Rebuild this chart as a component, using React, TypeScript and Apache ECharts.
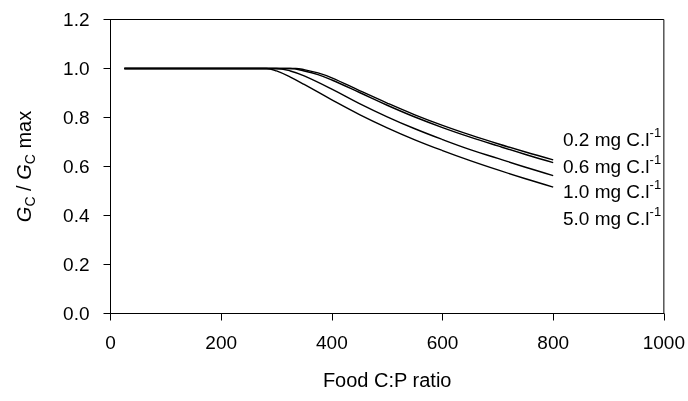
import React, { useEffect, useRef } from "react";
import * as echarts from "echarts";

// Food C:P ratio (x) and relative growth G_C / G_C max (y) for each food concentration
const concLabels = ["0.2 mg C.l", "0.6 mg C.l", "1.0 mg C.l", "5.0 mg C.l"];

const cp02 = [25, 335, 350, 375, 400, 450, 500, 550, 600, 650, 700, 750, 800];
const g02 = [1, 1, 0.995, 0.982, 0.962, 0.91, 0.859, 0.811, 0.768, 0.729, 0.693, 0.659, 0.627];

const cp06 = [25, 325, 350, 375, 400, 450, 500, 550, 600, 650, 700, 750, 800];
const g06 = [1, 1, 0.99, 0.975, 0.953, 0.902, 0.85, 0.802, 0.759, 0.72, 0.684, 0.649, 0.616];

const cp10 = [25, 300, 325, 350, 400, 450, 500, 550, 600, 650, 700, 750, 800];
const g10 = [1, 1, 0.99, 0.97, 0.916, 0.857, 0.803, 0.754, 0.71, 0.669, 0.633, 0.597, 0.563];

const cp50 = [25, 282, 300, 325, 350, 400, 450, 500, 550, 600, 650, 700, 750, 800];
const g50 = [1, 1, 0.99, 0.965, 0.935, 0.872, 0.812, 0.758, 0.709, 0.665, 0.624, 0.586, 0.55, 0.516];

const xTicks = [0, 200, 400, 600, 800, 1000];
const yTicks = [0, 0.2, 0.4, 0.6, 0.8, 1.0, 1.2];

const FONT = "'Liberation Sans', Arial, sans-serif";

function pairs(xs: number[], ys: number[]) {
  return xs.map((x, i) => [x, ys[i]]);
}

export default function App() {
  const ref = useRef<HTMLDivElement>(null);
  useEffect(() => {
    if (!ref.current) return;
    const chart = echarts.init(ref.current, null, { renderer: "svg" });
    const allSeries = [
      pairs(cp02, g02),
      pairs(cp06, g06),
      pairs(cp10, g10),
      pairs(cp50, g50),
    ];
    const labelTops = [139, 166, 191, 218];
    chart.setOption({
      animation: false,
      textStyle: { fontFamily: FONT },
      grid: {
        left: 110.5,
        right: 23,
        top: 19.5,
        bottom: 87.5,
        show: true,
        borderColor: "#000",
        borderWidth: 1,
        backgroundColor: "transparent",
      },
      xAxis: {
        type: "value",
        min: xTicks[0],
        max: xTicks[xTicks.length - 1],
        interval: 200,
        name: "Food C:P ratio",
        nameLocation: "middle",
        nameGap: 56,
        nameTextStyle: { fontSize: 20, color: "#000", fontFamily: FONT },
        axisLine: { show: true, lineStyle: { color: "#000", width: 1 } },
        axisTick: { show: true, inside: false, length: 7, lineStyle: { color: "#000" } },
        axisLabel: {
          fontSize: 19,
          color: "#000",
          margin: 19,
          fontFamily: FONT,
          formatter: (v: number) => String(v),
        },
        splitLine: { show: false },
      },
      yAxis: {
        type: "value",
        min: yTicks[0],
        max: yTicks[yTicks.length - 1],
        interval: 0.2,
        name: "{i|G}{sub|C}{n| / }{i|G}{sub|C}{n| max}",
        nameLocation: "middle",
        nameGap: 74,
        nameRotate: 90,
        nameTextStyle: {
          color: "#000",
          fontFamily: FONT,
          rich: {
            i: { fontSize: 20, fontStyle: "italic", color: "#000", fontFamily: FONT, lineHeight: 26, verticalAlign: "middle" },
            n: { fontSize: 20, color: "#000", fontFamily: FONT, lineHeight: 26, verticalAlign: "middle" },
            sub: { fontSize: 14, color: "#000", fontFamily: FONT, lineHeight: 12, verticalAlign: "bottom" },
          },
        },
        axisLine: { show: true, lineStyle: { color: "#000", width: 1 } },
        axisTick: { show: true, inside: false, length: 7, lineStyle: { color: "#000" } },
        axisLabel: {
          fontSize: 19,
          color: "#000",
          margin: 21,
          fontFamily: FONT,
          formatter: (v: number) => v.toFixed(1),
        },
        splitLine: { show: false },
      },
      series: allSeries.map((d, i) => ({
        type: "line",
        name: concLabels[i],
        data: d,
        showSymbol: false,
        smooth: 0.4,
        lineStyle: { color: "#000", width: 1.4 },
        silent: true,
      })),
      graphic: concLabels.map((t, i) => ({
        type: "text",
        left: 563,
        top: labelTops[i] - 13,
        style: {
          text: `{n|${t}}{sup|-1}`,
          fill: "#000",
          rich: {
            n: { fontSize: 19, fontFamily: FONT, fill: "#000", lineHeight: 26, verticalAlign: "middle" },
            sup: { fontSize: 13, fontFamily: FONT, fill: "#000", lineHeight: 14, verticalAlign: "top" },
          },
        },
      })),
    });
    return () => chart.dispose();
  }, []);
  return (
    <div
      ref={ref}
      style={{ position: "fixed", left: 0, top: 0, width: 688, height: 401 }}
    />
  );
}
